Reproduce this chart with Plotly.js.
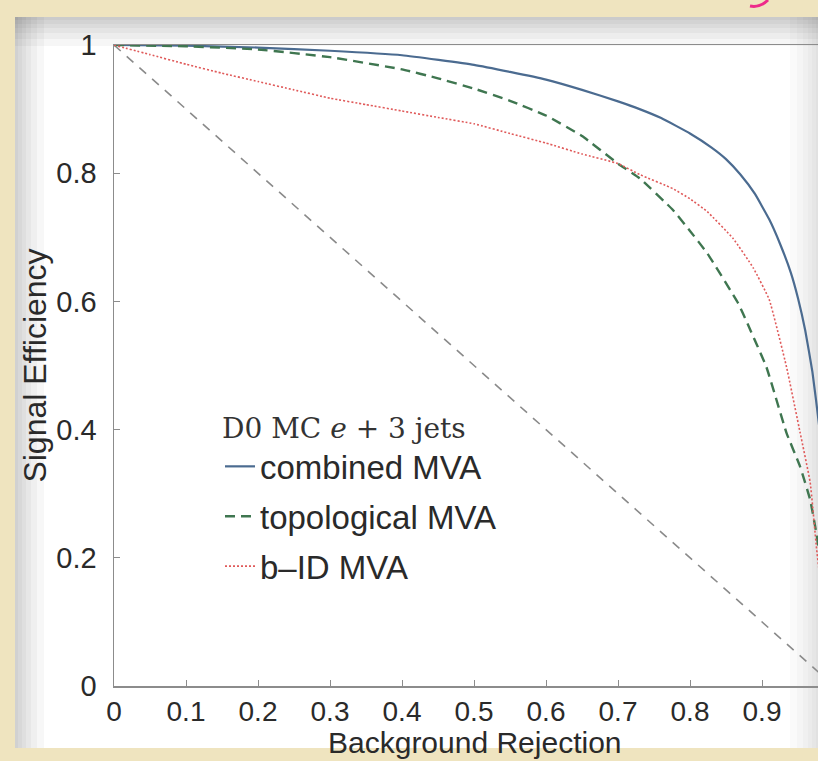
<!DOCTYPE html>
<html>
<head>
<meta charset="utf-8">
<script src="https://cdn.plot.ly/plotly-3.0.1.min.js"></script>
<style>html,body{margin:0;padding:0;background:#efe4bf;}#chart{width:818px;height:761px;}</style>
</head>
<body>
<div id="chart"></div>
<script>
// ---- data ----
const combinedX = [0, 0.1, 0.2, 0.3, 0.4, 0.5, 0.55, 0.6, 0.65, 0.7, 0.73, 0.76, 0.8, 0.83, 0.85, 0.87, 0.89, 0.91, 0.925, 0.94, 0.95, 0.96, 0.97, 0.98, 0.99, 1.0];
const combinedY = [1, 0.999, 0.996, 0.991, 0.984, 0.969, 0.958, 0.946, 0.93, 0.912, 0.9, 0.886, 0.862, 0.84, 0.822, 0.798, 0.768, 0.728, 0.69, 0.645, 0.605, 0.555, 0.49, 0.40, 0.26, 0];

const topoX = [0, 0.1, 0.2, 0.3, 0.4, 0.45, 0.5, 0.55, 0.6, 0.65, 0.7, 0.73, 0.776, 0.8, 0.824, 0.867, 0.88, 0.906, 0.934, 0.953, 0.967, 0.976, 0.99, 1.0];
const topoY = [1, 0.998, 0.993, 0.981, 0.962, 0.948, 0.932, 0.913, 0.89, 0.858, 0.815, 0.792, 0.743, 0.71, 0.675, 0.597, 0.565, 0.498, 0.395, 0.342, 0.29, 0.235, 0.12, 0];

const bidX = [0, 0.05, 0.1, 0.15, 0.2, 0.25, 0.3, 0.35, 0.4, 0.45, 0.5, 0.55, 0.6, 0.65, 0.7, 0.73, 0.776, 0.8, 0.824, 0.86, 0.888, 0.91, 0.934, 0.953, 0.967, 0.976, 0.99, 1.0];
const bidY = [1, 0.985, 0.97, 0.956, 0.943, 0.93, 0.917, 0.907, 0.897, 0.887, 0.877, 0.862, 0.847, 0.83, 0.815, 0.798, 0.776, 0.76, 0.74, 0.698, 0.652, 0.603, 0.498, 0.395, 0.317, 0.212, 0.08, 0];

const diagX = [0, 1];
const diagY = [1, 0];

const seriesNames = ["combined MVA", "topological MVA", "b\u2013ID MVA"];
const legendTitle = "D0 MC <i>e</i> + 3 jets";
const xTitle = "Background Rejection";
const yTitle = "Signal Efficiency";
const xTicks = [0, 0.1, 0.2, 0.3, 0.4, 0.5, 0.6, 0.7, 0.8, 0.9];
const yTicks = [0, 0.2, 0.4, 0.6, 0.8, 1];
const yTickText = ["0", "0.2", "0.4", "0.6", "0.8", "1"];

// ---- layout helpers (pixel -> paper) ----
const L = 114, T = 45, B = 75, R = 0, W = 818, H = 761;
const PW = W - L - R, PH = H - T - B;
const px = v => (v - L) / PW;
const py = v => (H - B - v) / PH;

const smooth = {shape: 'spline', smoothing: 0.35};
const traces = [
  {x: diagX, y: diagY, mode: 'lines', showlegend: false, hoverinfo: 'skip',
   line: {color: '#8a8a8a', width: 1.6, dash: '9px,8px'}},
  {x: combinedX, y: combinedY, mode: 'lines', name: seriesNames[0], legendgroup: 'a',
   line: Object.assign({color: '#4b6b90', width: 2.2}, smooth)},
  {x: topoX, y: topoY, mode: 'lines', name: seriesNames[1], legendgroup: 'b',
   line: Object.assign({color: '#3f7650', width: 2.4, dash: '10px,6px'}, smooth)},
  {x: bidX, y: bidY, mode: 'lines', name: seriesNames[2], legendgroup: 'c',
   line: Object.assign({color: '#e05a5a', width: 1.6, dash: '2px,2px'}, smooth)}
];

const shapes = [];
// white panel with soft shadow
shapes.push({type: 'rect', xref: 'paper', yref: 'paper', layer: 'below',
  x0: px(15), x1: px(820), y0: py(748), y1: py(17), fillcolor: '#ffffff', line: {width: 0}});
[0, 4, 8, 13, 19, 26].forEach(d => {
  shapes.push({type: 'rect', xref: 'paper', yref: 'paper', layer: 'below',
    x0: px(15), x1: px(820), y0: py(17 + d + 3), y1: py(17), fillcolor: 'rgba(0,0,0,0.035)', line: {width: 0}});
  shapes.push({type: 'rect', xref: 'paper', yref: 'paper', layer: 'below',
    x0: px(15), x1: px(15 + d + 3), y0: py(748), y1: py(17), fillcolor: 'rgba(0,0,0,0.03)', line: {width: 0}});
  shapes.push({type: 'rect', xref: 'paper', yref: 'paper', layer: 'below',
    x0: px(818 - d - 2), x1: px(820), y0: py(748), y1: py(17), fillcolor: 'rgba(0,0,0,0.02)', line: {width: 0}});
});
// pink pen mark at the top-right corner
shapes.push({type: 'path', xref: 'paper', yref: 'paper', layer: 'above',
  path: 'M ' + px(750) + ' ' + py(6) + ' Q ' + px(760) + ' ' + py(8) + ' ' + px(768) + ' ' + py(0),
  line: {color: '#ee2a8a', width: 3}});

const sans = 'Liberation Sans, Arial, sans-serif';
const tickFont = {family: sans, size: 28, color: '#2a2a2a'};

const layout = {
  width: W, height: H,
  margin: {l: L, r: R, t: T, b: B, pad: 0},
  paper_bgcolor: '#efe4bf',
  plot_bgcolor: 'rgba(255,255,255,0)',
  showlegend: true,
  xaxis: {
    range: [0, PW / 720], tickvals: xTicks, ticktext: xTicks.map(String),
    showgrid: false, zeroline: false, showline: true, linecolor: '#8c8c8c', linewidth: 1.5, mirror: true,
    ticks: 'inside', ticklen: 6, tickcolor: '#8c8c8c', tickfont: tickFont,
    automargin: false, fixedrange: true
  },
  yaxis: {
    range: [0, 1], tickvals: yTicks, ticktext: yTickText,
    showgrid: false, zeroline: false, showline: true, linecolor: '#8c8c8c', linewidth: 1.5,
    ticks: 'inside', ticklen: 6, tickcolor: '#8c8c8c', tickfont: {family: sans, size: 29, color: '#2a2a2a'}, ticklabelstandoff: 10,
    title: {text: yTitle, font: {family: sans, size: 32, color: '#2a2a2a'}, standoff: 0},
    automargin: false, fixedrange: true
  },
  annotations: [
    {text: xTitle, xref: 'paper', yref: 'paper', x: px(475), y: py(742), xanchor: 'center', yanchor: 'middle',
     showarrow: false, font: {family: sans, size: 30, color: '#2a2a2a'}}
  ],
  legend: {
    x: px(220), y: py(402), xanchor: 'left', yanchor: 'top',
    bgcolor: 'rgba(255,255,255,0)', borderwidth: 0,
    font: {family: sans, size: 33, color: '#2a2a2a'},
    title: {text: legendTitle, side: 'top', font: {family: 'DejaVu Serif, Liberation Serif, serif', size: 28, color: '#333'}},
    tracegroupgap: 4, itemwidth: 30
  },
  shapes: shapes
};

Plotly.newPlot('chart', traces, layout, {displayModeBar: false, staticPlot: true});
</script>
</body>
</html>
